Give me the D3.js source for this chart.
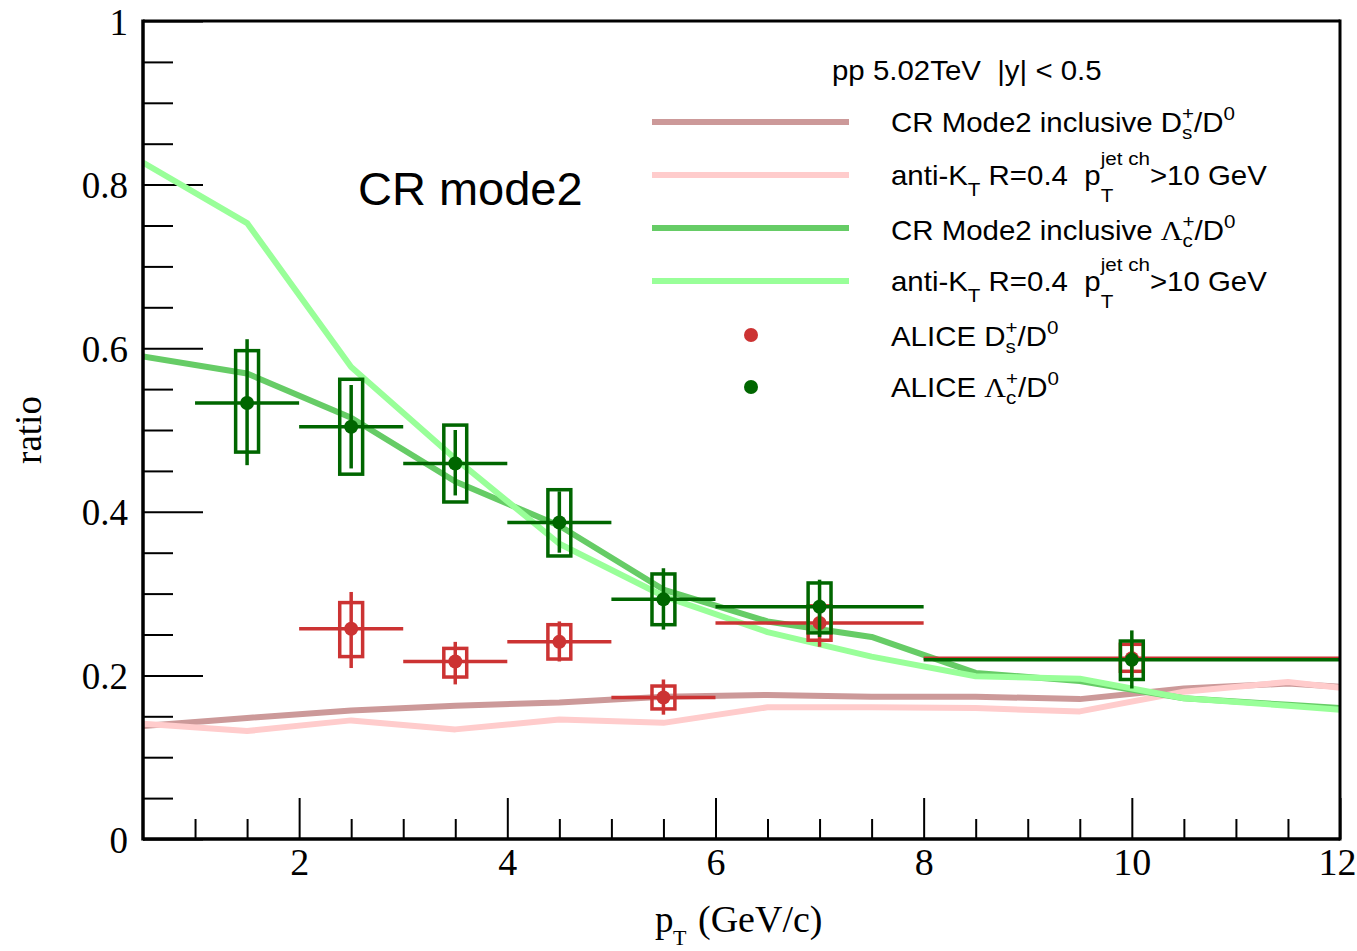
<!DOCTYPE html>
<html>
<head>
<meta charset="utf-8">
<script src="https://cdn.jsdelivr.net/npm/d3@7"></script>
<style>
  html, body { margin: 0; padding: 0; background: #fff; }
  svg { display: block; }
  text { white-space: pre; }
</style>
</head>
<body>
<script>
// ---------------- data ----------------
const modelPt = [0.5, 1.5, 2.5, 3.5, 4.5, 5.5, 6.5, 7.5, 8.5, 9.5, 10.5, 11.5, 12];
const crModeDs = [0.138, 0.148, 0.157, 0.163, 0.167, 0.174, 0.176, 0.174, 0.174, 0.171, 0.184, 0.190, 0.186];
const antiKtDs = [0.141, 0.132, 0.145, 0.134, 0.146, 0.142, 0.161, 0.161, 0.160, 0.156, 0.180, 0.192, 0.185];
const crModeLc = [0.590, 0.569, 0.515, 0.437, 0.383, 0.305, 0.266, 0.247, 0.203, 0.193, 0.172, 0.164, 0.160];
const antiKtLc = [0.827, 0.753, 0.577, 0.465, 0.361, 0.297, 0.253, 0.223, 0.199, 0.196, 0.172, 0.163, 0.158];

const lcPt     = [1.5, 2.5, 3.5, 4.5, 5.5, 7, 10];
const lcPtLo   = [1, 2, 3, 4, 5, 6, 8];
const lcPtHi   = [2, 3, 4, 5, 6, 8, 12];
const lcVal    = [0.533, 0.504, 0.459, 0.387, 0.293, 0.284, 0.219];
const lcStatLo = [0.457, 0.453, 0.420, 0.350, 0.256, 0.247, 0.184];
const lcStatHi = [0.611, 0.555, 0.500, 0.425, 0.331, 0.317, 0.255];
const lcSysLo  = [0.473, 0.446, 0.412, 0.346, 0.262, 0.252, 0.195];
const lcSysHi  = [0.597, 0.562, 0.506, 0.427, 0.324, 0.313, 0.242];

const dsPt     = [2.5, 3.5, 4.5, 5.5, 7, 10];
const dsPtLo   = [2, 3, 4, 5, 6, 8];
const dsPtHi   = [3, 4, 5, 6, 8, 12];
const dsVal    = [0.257, 0.217, 0.241, 0.173, 0.264, 0.221];
const dsStatLo = [0.209, 0.189, 0.217, 0.152, 0.235, 0.198];
const dsStatHi = [0.302, 0.241, 0.266, 0.195, 0.293, 0.244];
const dsSysLo  = [0.223, 0.198, 0.220, 0.159, 0.243, 0.205];
const dsSysHi  = [0.289, 0.233, 0.262, 0.187, 0.285, 0.238];

const xMajorTicks = [2, 4, 6, 8, 10, 12];
const xMinorTicks = [1, 1.5, 2.5, 3, 3.5, 4.5, 5, 5.5, 6.5, 7, 7.5, 8.5, 9, 9.5, 10.5, 11, 11.5];
const yMajorTicks = [0, 0.2, 0.4, 0.6, 0.8, 1];
const yMinorTicks = [0.05, 0.1, 0.15, 0.25, 0.3, 0.35, 0.45, 0.5, 0.55, 0.65, 0.7, 0.75, 0.85, 0.9, 0.95];
const yTickLabels = ["0", "0.2", "0.4", "0.6", "0.8", "1"];
const xTickLabels = ["2", "4", "6", "8", "10", "12"];

// ---------------- styles ----------------
const C = {
  crDs: "#cc9999", ktDs: "#ffcccc", crLc: "#66cc66", ktLc: "#99ff99",
  ds: "#cc3333", lc: "#006600"
};
const SERIF = "'Liberation Serif', 'Times New Roman', serif";
const SANS = "'Liberation Sans', Arial, sans-serif";

const W = 1357, H = 951;
const L = 143, R = 1340, T = 21, B = 839;

const svg = d3.select("body").append("svg").attr("width", W).attr("height", H);

const x = d3.scaleLinear().domain([0.5, 12]).range([L, R]);
const y = d3.scaleLinear().domain([0, 1]).range([B, T]);

svg.append("defs").append("clipPath").attr("id", "plot")
  .append("rect").attr("x", L).attr("y", T).attr("width", R - L).attr("height", B - T);

// ---------------- axes ----------------
const xMajor = d3.axisBottom(x).tickValues(xMajorTicks).tickSize(-41).tickSizeOuter(0)
  .tickFormat((d, i) => xTickLabels[i]);
const xMinor = d3.axisBottom(x).tickValues(xMinorTicks).tickSize(-20).tickSizeOuter(0).tickFormat("");
const yMajor = d3.axisLeft(y).tickValues(yMajorTicks).tickSize(-60).tickSizeOuter(0)
  .tickFormat((d, i) => yTickLabels[i]);
const yMinor = d3.axisLeft(y).tickValues(yMinorTicks).tickSize(-30).tickSizeOuter(0).tickFormat("");

function styleAxis(g) {
  g.select(".domain").remove();
  g.selectAll(".tick line").attr("stroke", "#000").attr("stroke-width", 2);
  g.selectAll(".tick text").attr("fill", "#000").attr("font-family", SERIF).attr("font-size", 37);
}
svg.append("g").attr("transform", `translate(0,${B})`).call(xMinor).call(styleAxis);
const gx = svg.append("g").attr("transform", `translate(0,${B})`).call(xMajor).call(styleAxis);
gx.selectAll(".tick text").attr("y", 36).attr("dy", null).attr("font-size", 38);
// keep the last label inside the page edge
gx.selectAll(".tick text").filter(d => d === 12).attr("text-anchor", "end").attr("x", W - 1 - x(12));
svg.append("g").attr("transform", `translate(${L},0)`).call(yMinor).call(styleAxis);
const gy = svg.append("g").attr("transform", `translate(${L},0)`).call(yMajor).call(styleAxis);
gy.selectAll(".tick text").attr("x", -15).attr("dy", null).attr("y", 13);

// ---------------- model curves ----------------
const line = d3.line().x(d => x(d[0])).y(d => y(d[1]));
const curves = svg.append("g").attr("clip-path", "url(#plot)");
[[crModeDs, C.crDs], [antiKtDs, C.ktDs], [crModeLc, C.crLc], [antiKtLc, C.ktLc]].forEach(([vals, col]) => {
  curves.append("path")
    .attr("d", line(modelPt.map((p, i) => [p, vals[i]])))
    .attr("fill", "none").attr("stroke", col).attr("stroke-width", 6)
    .attr("stroke-linejoin", "round");
});

// ---------------- data points ----------------
const BOX_HALF = 0.11;
function drawData(pt, lo, hi, val, sLo, sHi, yLo, yHi, col) {
  const g = svg.append("g").attr("clip-path", "url(#plot)");
  pt.forEach((p, i) => {
    g.append("line").attr("x1", x(lo[i])).attr("x2", x(hi[i]))
      .attr("y1", y(val[i])).attr("y2", y(val[i]))
      .attr("stroke", col).attr("stroke-width", 3.5);
    g.append("rect").attr("x", x(p - BOX_HALF)).attr("width", x(p + BOX_HALF) - x(p - BOX_HALF))
      .attr("y", y(yHi[i])).attr("height", y(yLo[i]) - y(yHi[i]))
      .attr("fill", "none").attr("stroke", col).attr("stroke-width", 3.5);
    g.append("line").attr("x1", x(p)).attr("x2", x(p))
      .attr("y1", y(sLo[i])).attr("y2", y(sHi[i]))
      .attr("stroke", col).attr("stroke-width", 3.5);
    g.append("circle").attr("cx", x(p)).attr("cy", y(val[i])).attr("r", 7).attr("fill", col);
  });
}
drawData(dsPt, dsPtLo, dsPtHi, dsVal, dsStatLo, dsStatHi, dsSysLo, dsSysHi, C.ds);
drawData(lcPt, lcPtLo, lcPtHi, lcVal, lcStatLo, lcStatHi, lcSysLo, lcSysHi, C.lc);

// ---------------- frame ----------------
svg.append("line").attr("x1", L).attr("x2", R).attr("y1", T).attr("y2", T).attr("stroke", "#000").attr("stroke-width", 3);
svg.append("line").attr("x1", R).attr("x2", R).attr("y1", T - 1.5).attr("y2", B + 1.5).attr("stroke", "#000").attr("stroke-width", 3);
svg.append("line").attr("x1", L).attr("x2", R).attr("y1", B).attr("y2", B).attr("stroke", "#000").attr("stroke-width", 3.5);
svg.append("line").attr("x1", L).attr("x2", L).attr("y1", T - 1.5).attr("y2", B + 1.5).attr("stroke", "#000").attr("stroke-width", 3.5);

// ---------------- rich text helper ----------------
function put(g, str, px, py, size, fam) {
  const t = g.append("text").attr("x", px).attr("y", py).attr("font-size", size)
    .attr("font-family", fam).attr("fill", "#000").text(str);
  return t.node().getComputedTextLength();
}
function rich(g, x0, yb, segs, size) {
  let cx = x0;
  const small = size * 0.7;
  segs.forEach(s => {
    if (s.t !== undefined) cx += put(g, s.t, cx, yb, size, SANS);
    else if (s.g !== undefined) cx += put(g, s.g, cx, yb, size * 1.02, SERIF);
    else {
      let w = 0;
      if (s.sup !== undefined) w = Math.max(w, put(g, s.sup, cx, yb + s.supDy, small, SANS));
      if (s.sub !== undefined) w = Math.max(w, put(g, s.sub, cx, yb + s.subDy, small, SANS));
      cx += w;
    }
  });
  return cx;
}

// ---------------- legend ----------------
const LS = 1.09, LF = 27;
function legendText(yb, segs) {
  const g = svg.append("g").attr("transform", `translate(891,0) scale(${LS},1)`);
  rich(g, 0, yb, segs, LF);
}
svg.append("g").attr("transform", `translate(832,0) scale(${LS},1)`)
  .append("text").attr("x", 0).attr("y", 80).attr("font-family", SANS).attr("font-size", LF)
  .attr("fill", "#000").text("pp 5.02TeV  |y| < 0.5");

const legLines = [[122, C.crDs], [175, C.ktDs], [228, C.crLc], [281, C.ktLc]];
legLines.forEach(([ly, col]) => {
  svg.append("line").attr("x1", 652).attr("x2", 849).attr("y1", ly).attr("y2", ly)
    .attr("stroke", col).attr("stroke-width", 6);
});
svg.append("circle").attr("cx", 751).attr("cy", 335).attr("r", 7).attr("fill", C.ds);
svg.append("circle").attr("cx", 751).attr("cy", 387).attr("r", 7).attr("fill", C.lc);

const antiKt = [
  {t: "anti-K"}, {sub: "T", subDy: 11},
  {t: " R=0.4  p"}, {sub: "T", subDy: 17, sup: "jet ch", supDy: -20},
  {t: ">10 GeV"}
];
legendText(132, [{t: "CR Mode2 inclusive D"}, {sub: "s", subDy: 7, sup: "+", supDy: -12}, {t: "/D"}, {sup: "0", supDy: -12}]);
legendText(185, antiKt);
legendText(240, [{t: "CR Mode2 inclusive "}, {g: "Λ"}, {sub: "c", subDy: 7, sup: "+", supDy: -12}, {t: "/D"}, {sup: "0", supDy: -12}]);
legendText(291, antiKt);
legendText(346, [{t: "ALICE D"}, {sub: "s", subDy: 7, sup: "+", supDy: -12}, {t: "/D"}, {sup: "0", supDy: -12}]);
legendText(397, [{t: "ALICE "}, {g: "Λ"}, {sub: "c", subDy: 7, sup: "+", supDy: -12}, {t: "/D"}, {sup: "0", supDy: -12}]);

// ---------------- titles ----------------
svg.append("text").attr("x", 358).attr("y", 205).attr("font-family", SANS).attr("font-size", 47)
  .attr("fill", "#000").text("CR mode2");

svg.append("text").attr("transform", "translate(41,430) rotate(-90)").attr("text-anchor", "middle")
  .attr("font-family", SERIF).attr("font-size", 37).attr("fill", "#000").text("ratio");

{
  const g = svg.append("g");
  put(g, "p", 655, 932, 37, SERIF);
  put(g, "T", 673, 945, 22, SERIF);
  put(g, "(GeV/c)", 698, 932, 38, SERIF);
}
</script>
</body>
</html>
